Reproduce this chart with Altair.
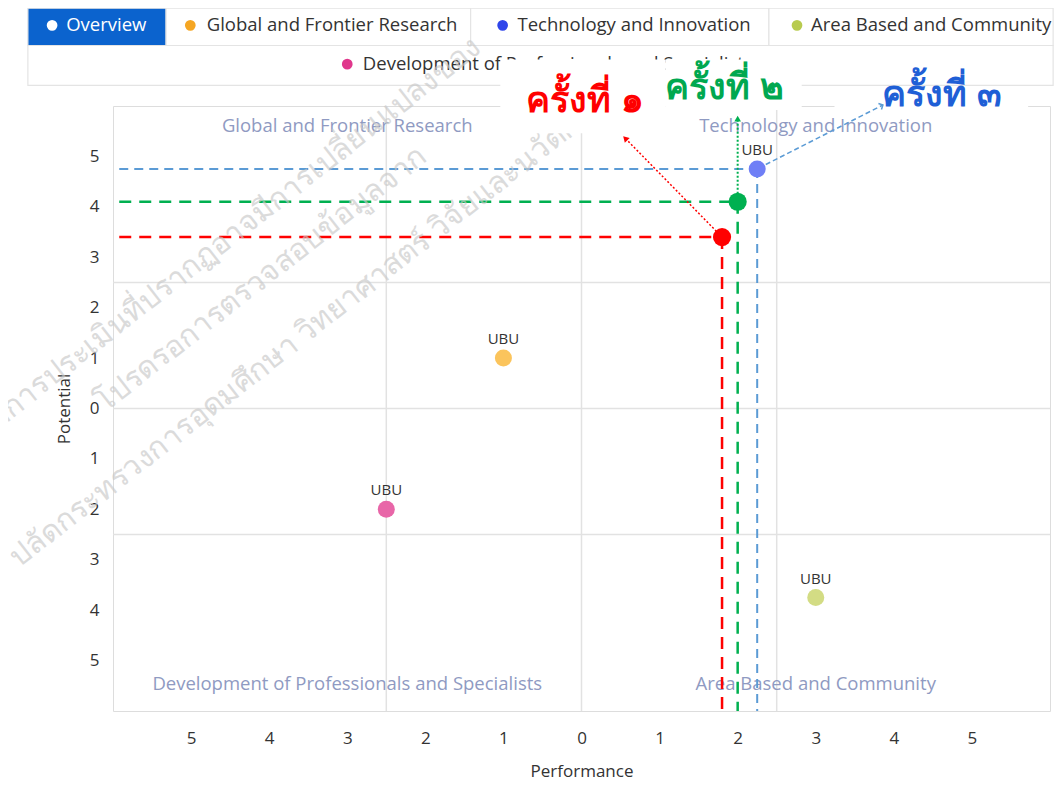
import altair as alt
import pandas as pd

# ---------------- data ----------------
categories = [
    "Global and Frontier Research",
    "Technology and Innovation",
    "Area Based and Community",
    "Development of Professionals and Specialists",
]
performance = [-1.0, 2.25, 3.0, -2.5]
potential = [1.0, 4.75, -3.75, -2.0]
point_label = ["UBU", "UBU", "UBU", "UBU"]
legend_colors = ["#f5a623", "#2f45ea", "#b8cb4f", "#e0378c"]
point_colors = ["#fbc45c", "#6f7ff6", "#d3dc84", "#e866a8"]

round_names = ["ครั้งที่ ๑", "ครั้งที่ ๒", "ครั้งที่ ๓"]
round_perf = [1.8, 2.0, 2.25]
round_pot = [3.4, 4.1, 4.75]
round_colors = ["#ff0000", "#00b050", "#5b9bd5"]

tick_values = [-5, -4, -3, -2, -1, 0, 1, 2, 3, 4, 5]
grid_values = [-2.5, 0, 2.5]
domain = [-6, 6]

watermark_lines = [
    "ผลการประเมินที่ปรากฏอาจมีการเปลี่ยนแปลงของ",
    "โปรดรอการตรวจสอบข้อมูลจาก",
    "ปลัดกระทรวงการอุดมศึกษา วิทยาศาสตร์ วิจัยและนวัตกรรม",
]

# ---------------- layout (in data units of the chart scales) ----------------
W, H = 937, 605
FONT = "Open Sans"

quad_x = [-3.0, 3.0, -3.0, 3.0]
quad_y = [5.6, 5.6, -5.46, -5.46]
quad_names = [categories[0], categories[1], categories[3], categories[2]]

leg_names = ["Overview"] + categories
leg_x0 = [-7.09, -5.32, -1.42, 2.40, -7.09]
leg_x1 = [-5.32, -1.42, 2.40, 6.04, 6.04]
leg_y0 = [7.94, 7.94, 7.94, 7.94, 7.20]
leg_y1 = [7.20, 7.20, 7.20, 7.20, 6.41]
leg_fill = ["#0b63ce", "#ffffff", "#ffffff", "#ffffff", "#ffffff"]
leg_dot_x = [-6.78, -5.01, -1.01, 2.76, -3.0]
leg_txt_x = [-6.60, -4.80, -0.82, 2.94, -2.80]
leg_txt_y = [7.60, 7.60, 7.60, 7.60, 6.83]
leg_dot_col = ["#ffffff"] + legend_colors
leg_txt_col = ["#ffffff", "#333333", "#333333", "#333333", "#333333"]

ann_x = [0.05, 1.83, 4.62]
ann_y = [6.10, 6.36, 6.21]
box_x0 = [-1.04, 1.08, 3.24]
box_x1 = [1.08, 2.82, 5.72]
box_y0 = [6.92, 6.92, 6.33]
box_y1 = [5.46, 5.92, 5.92]

arrow_x0 = [1.8, 2.0, 2.36]
arrow_y0 = [3.4, 4.1, 4.84]
arrow_x1 = [0.56, 2.0, 3.86]
arrow_y1 = [5.36, 5.75, 6.02]
arrow_angle = [316, 0, 63]

wm_x = [-7.73, -6.17, -7.27]
wm_y = [-0.50, 0.06, -3.02]

xs = alt.Scale(domain=domain, nice=False, zero=False)
ys = alt.Scale(domain=domain, nice=False, zero=False)

# ---------------- tables ----------------
pts = pd.DataFrame({"cat": categories, "perf": performance, "pot": potential,
                    "lab": point_label, "col": point_colors})
leg = pd.DataFrame({"name": leg_names, "x0": leg_x0, "x1": leg_x1, "y0": leg_y0,
                    "y1": leg_y1, "fill": leg_fill, "dx": leg_dot_x, "tx": leg_txt_x,
                    "ty": leg_txt_y, "dcol": leg_dot_col, "tcol": leg_txt_col})
quad = pd.DataFrame({"name": quad_names, "x": quad_x, "y": quad_y})
grid = pd.DataFrame({"v": grid_values})

x_axis = alt.Axis(values=tick_values, labelExpr="abs(datum.value)", grid=False,
                  ticks=False, domain=False, labelFontSize=17, labelColor="#333333",
                  labelFont=FONT, labelPadding=19, title="Performance",
                  titleFont=FONT, titleFontSize=17, titleFontWeight="normal",
                  titleColor="#333333", titlePadding=17)
y_axis = alt.Axis(values=tick_values, labelExpr="abs(datum.value)", grid=False,
                  ticks=False, domain=False, labelFontSize=17, labelColor="#333333",
                  labelFont=FONT, labelPadding=14, title="Potential",
                  titleFont=FONT, titleFontSize=17, titleFontWeight="normal",
                  titleColor="#333333", titlePadding=16)

base_pts = alt.Chart(pts)

layers = []

# legend buttons
lb = alt.Chart(leg)
layers.append(lb.mark_rect(stroke="#e4e4e4", strokeWidth=1.2, clip=False).encode(
    x=alt.X("x0:Q", scale=xs, axis=x_axis), x2="x1:Q",
    y=alt.Y("y0:Q", scale=ys, axis=y_axis), y2="y1:Q",
    fill=alt.Fill("fill:N", scale=None)))
layers.append(lb.mark_point(filled=True, shape="circle", size=115, opacity=1, clip=False).encode(
    x="dx:Q", y="ty:Q", color=alt.Color("dcol:N", scale=None)))
layers.append(lb.mark_text(align="left", baseline="middle", font=FONT, fontSize=18.5, clip=False).encode(
    x="tx:Q", y="ty:Q", text="name:N", color=alt.Color("tcol:N", scale=None)))

# grid
layers.append(alt.Chart(grid).mark_rule(color="#e2e2e2", strokeWidth=1.5).encode(x="v:Q"))
layers.append(alt.Chart(grid).mark_rule(color="#e2e2e2", strokeWidth=1.5).encode(y="v:Q"))

# quadrant labels
layers.append(alt.Chart(quad).mark_text(font=FONT, fontSize=18.5, color="#8f9ac2",
                                        baseline="middle").encode(
    x="x:Q", y="y:Q", text="name:N"))

# dashed guide lines
dash_styles = [([12, 8], 2.5), ([12, 8], 2.5), ([9, 6], 2.0)]
for i in range(3):
    seg = pd.DataFrame({"x0": [domain[0] + 0.08, round_perf[i]],
                        "x1": [round_perf[i], round_perf[i]],
                        "y0": [round_pot[i], round_pot[i]],
                        "y1": [round_pot[i], domain[0]]})
    layers.append(alt.Chart(seg).mark_rule(color=round_colors[i], strokeDash=dash_styles[i][0],
                                           strokeWidth=dash_styles[i][1]).encode(
        x="x0:Q", x2="x1:Q", y="y0:Q", y2="y1:Q"))

# round points (1 and 2; round 3 is the Technology point)
rp = pd.DataFrame({"x": round_perf[:2], "y": round_pot[:2], "c": round_colors[:2]})
layers.append(alt.Chart(rp).mark_point(filled=True, size=330, opacity=1).encode(
    x="x:Q", y="y:Q", color=alt.Color("c:N", scale=None)))

# category points
layers.append(base_pts.mark_point(filled=True, size=290, opacity=1).encode(
    x="perf:Q", y="pot:Q", color=alt.Color("col:N", scale=None)))
layers.append(base_pts.mark_text(dy=-19, font=FONT, fontSize=15, color="#333333").encode(
    x="perf:Q", y="pot:Q", text="lab:N"))

# watermark
wm = pd.DataFrame({"t": watermark_lines, "x": wm_x, "y": wm_y})
layers.append(alt.Chart(wm).mark_text(angle=322, fontSize=30, color="#c8c8c8", opacity=0.65,
                                      align="left", baseline="middle", font=FONT,
                                      clip=False).encode(
    x="x:Q", y="y:Q", text="t:N"))

# white boxes behind the annotations
boxes = pd.DataFrame({"x0": box_x0, "x1": box_x1, "y0": box_y0, "y1": box_y1})
layers.append(alt.Chart(boxes).mark_rect(color="#ffffff", clip=False).encode(
    x="x0:Q", x2="x1:Q", y="y0:Q", y2="y1:Q"))

# arrows
arr = pd.DataFrame({"x0": arrow_x0, "y0": arrow_y0, "x1": arrow_x1, "y1": arrow_y1,
                    "c": round_colors, "a": arrow_angle})
arrow_dash = [[2, 2], [2, 2], [5, 3]]
arrow_w = [1.5, 2.0, 1.5]
for i in range(3):
    one = arr.iloc[[i]]
    layers.append(alt.Chart(one).mark_rule(color=round_colors[i], strokeDash=arrow_dash[i],
                                           strokeWidth=arrow_w[i], clip=False).encode(
        x="x0:Q", x2="x1:Q", y="y0:Q", y2="y1:Q"))
    if i < 2:
        layers.append(alt.Chart(one).mark_point(shape="triangle-up", filled=True, size=45,
                                                opacity=1, color=round_colors[i],
                                                angle=arrow_angle[i], clip=False).encode(
            x="x1:Q", y="y1:Q"))
    else:
        layers.append(alt.Chart(one).mark_point(shape="M -0.7 0.7 L 0 0 L 0.7 0.7", filled=False,
                                                size=90, strokeWidth=1.5, opacity=1,
                                                color=round_colors[i], angle=arrow_angle[i],
                                                clip=False).encode(
            x="x1:Q", y="y1:Q"))

# annotation labels
ann_cols = ["#ff0000", "#00a850", "#1f5fd6"]
ann = pd.DataFrame({"t": round_names, "x": ann_x, "y": ann_y, "c": ann_cols})
layers.append(alt.Chart(ann).mark_text(fontSize=36, fontWeight="bold", baseline="middle",
                                       clip=False).encode(
    x="x:Q", y="y:Q", text="t:N", color=alt.Color("c:N", scale=None)))

chart = alt.layer(*layers).properties(
    width=W, height=H,
    padding={"left": 105, "top": 98, "right": 4, "bottom": 72},
    autosize="none",
).configure_view(stroke="#e2e2e2", strokeWidth=1.5).configure(background="#ffffff")

chart.save("out.html", embed_options={"renderer": "svg", "actions": False})
